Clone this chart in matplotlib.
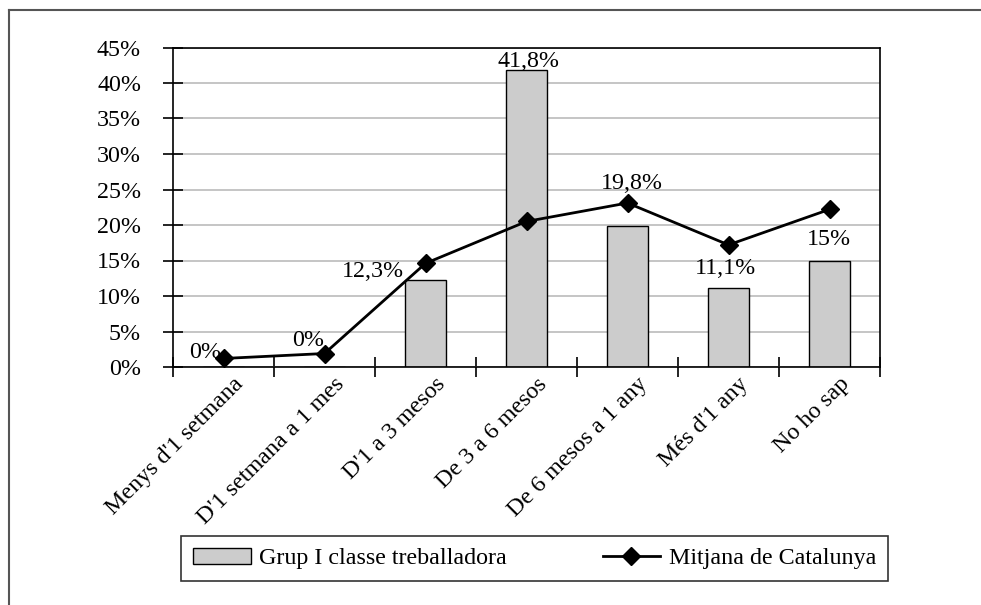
import matplotlib
matplotlib.use("Agg")
import matplotlib.pyplot as plt
from matplotlib.lines import Line2D
from matplotlib.transforms import ScaledTranslation
import numpy as np

categories = ["Menys d'1 setmana", "D'1 setmana a 1 mes", "D'1 a 3 mesos",
              "De 3 a 6 mesos", "De 6 mesos a 1 any", "Més d'1 any", "No ho sap"]
grup_values = [0, 0, 12.3, 41.8, 19.8, 11.1, 15]
grup_labels = ["0%", "0%", "12,3%", "41,8%", "19,8%", "11,1%", "15%"]
mitjana_values = [1.2, 1.9, 14.6, 20.5, 23.1, 17.2, 22.2]
yticks = [0, 5, 10, 15, 20, 25, 30, 35, 40, 45]
ytick_labels = ["0%", "5%", "10%", "15%", "20%", "25%", "30%", "35%", "40%", "45%"]
series_names = ["Grup I classe treballadora", "Mitjana de Catalunya"]

# label offsets in pixels (layout only)
label_offsets = [(-18, 15), (-16, 27), (-53, 8), (2, 9), (4, 43), (-3, 20), (-1, 21)]

plt.rcParams['font.family'] = ['Liberation Serif', 'DejaVu Serif']
FS = 17.3

fig = plt.figure(figsize=(9.81, 6.05), dpi=100)
ax = fig.add_axes([173/981, 1-367/605, (880-173)/981, (367-47.5)/605])

x = np.arange(len(categories))
ax.bar(x, grup_values, width=0.4, color="#cccccc", edgecolor="black", linewidth=1.0,
       zorder=2, label=series_names[0])
ax.plot(x, mitjana_values, color="black", linewidth=2, marker="D", markersize=9,
        zorder=3, label=series_names[1])

for i, (v, lab) in enumerate(zip(grup_values, grup_labels)):
    dx, dy = label_offsets[i]
    ax.annotate(lab, (x[i], v), xytext=(dx, dy), textcoords="offset pixels",
                ha="center", va="center", fontsize=FS, zorder=4)

ax.set_xlim(-0.5, len(categories) - 0.5)
ax.set_ylim(0, 45)
ax.set_yticks(yticks)
ax.set_yticklabels(ytick_labels, fontsize=FS)
ax.yaxis.grid(True, color="#c0c0c0", linewidth=1.3, zorder=0)
ax.set_axisbelow(True)

ax.set_xticks(np.arange(len(categories) + 1) - 0.5)
ax.set_xticklabels([])
ax.tick_params(axis="x", which="major", direction="inout", length=14, width=1.2)
ax.tick_params(axis="y", direction="inout", length=14, width=1.2, pad=16)

# category labels, rotated
lab_tr = ax.get_xaxis_transform() + ScaledTranslation(17/100, -14/100, fig.dpi_scale_trans)
for i, c in enumerate(categories):
    ax.text(x[i], 0, c, transform=lab_tr, rotation=45, ha="right", va="center",
            rotation_mode="anchor", fontsize=FS, clip_on=False)

for s in ax.spines.values():
    s.set_linewidth(1.2)
    s.set_color("black")

handles = [plt.Rectangle((0, 0), 1, 1, facecolor="#cccccc", edgecolor="black", linewidth=1.0),
           Line2D([], [], color="black", linewidth=2, marker="D", markersize=9)]
leg = fig.legend(handles, series_names, loc="center", ncol=2,
                 bbox_to_anchor=(181/981, 1-582/605, (888-181)/981, 47/605),
                 mode="expand", frameon=True, fancybox=False, fontsize=FS,
                 handlelength=2.4, handleheight=0.7, handletextpad=0.35,
                 borderaxespad=0, borderpad=0.5, edgecolor="black")
leg.get_frame().set_linewidth(1.2)

# outer frame
fig.add_artist(Line2D([9/981, 9/981], [0, 1-10/605], transform=fig.transFigure,
                      color="#555555", linewidth=1.5))
fig.add_artist(Line2D([9/981, 1], [1-10/605, 1-10/605], transform=fig.transFigure,
                      color="#555555", linewidth=1.5))

fig.savefig("out.png", dpi=100)
